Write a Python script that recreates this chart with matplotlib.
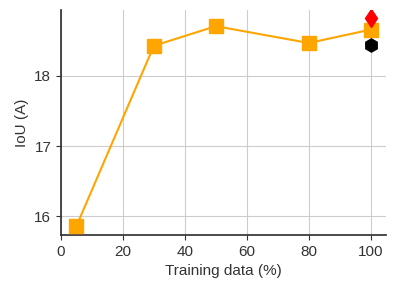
import matplotlib
matplotlib.use("Agg")
import matplotlib.pyplot as plt
import seaborn as sns

# training fraction vs IoU
train_pct = [5, 30, 50, 80, 100]
iou = [15.86, 18.43, 18.71, 18.47, 18.66]

# extra single points at 100%
red_x, red_y = [100], [18.83]
black_x, black_y = [100], [18.44]

sns.set_style("ticks")
plt.rcParams['font.family'] = ['Arial', 'Liberation Sans', 'DejaVu Sans']

fig = plt.figure(figsize=(3.96, 2.95), dpi=100)
ax = fig.add_axes([0.154, 0.203, 0.821, 0.763])

ax.grid(True, color='#cccccc', linewidth=0.8)
ax.set_axisbelow(True)

ax.plot(train_pct, iou, color='orange', marker='s', markersize=9.5, linewidth=1.5, zorder=3)
ax.plot(red_x, red_y, color='red', marker='d', markersize=9.5, linestyle='none', zorder=4)
ax.plot(black_x, black_y, color='black', marker='h', markersize=9.5, linestyle='none', zorder=4)

ax.set_xlim(0, 105)
ax.set_ylim(15.73, 18.94)
ax.set_xticks([0, 20, 40, 60, 80, 100])
ax.set_yticks([16, 17, 18])
ax.set_xlabel('Training data (%)', fontsize=11, color='#333333')
ax.set_ylabel('IoU (A)', fontsize=11, color='#333333')
ax.tick_params(labelsize=11, colors='#333333')
for s in ['left', 'bottom']:
    ax.spines[s].set_color('#333333')
    ax.spines[s].set_linewidth(1.25)
sns.despine(ax=ax)

fig.savefig('out.png', dpi=100)
